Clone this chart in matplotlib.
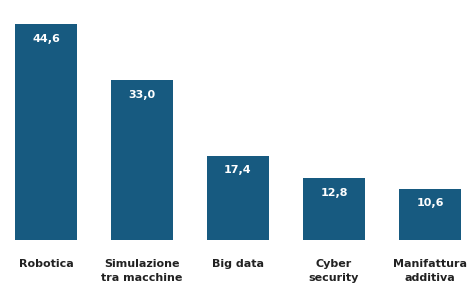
import matplotlib.pyplot as plt

categories = ["Robotica", "Simulazione\ntra macchine", "Big data", "Cyber\nsecurity", "Manifattura\nadditiva"]
values = [44.6, 33.0, 17.4, 12.8, 10.6]
value_labels = ["44,6", "33,0", "17,4", "12,8", "10,6"]

BAR_COLOR = "#175a80"

fig = plt.figure(figsize=(4.72, 2.83), dpi=100)
ax = fig.add_axes([0, 43 / 283, 1, 240 / 283])

x = list(range(len(categories)))
bars = ax.bar(x, values, width=0.65, color=BAR_COLOR)
for b, lab in zip(bars, value_labels):
    ax.text(b.get_x() + b.get_width() / 2, b.get_height() - 2.0, lab,
            ha="center", va="top", color="white", fontsize=8, fontweight="bold")

ax.set_xlim(-0.479, 4.4375)
ax.set_ylim(0, 49.56)
ax.set_xticks(x)
ax.set_xticklabels(categories, fontsize=8, fontweight="bold", color="#222222", linespacing=1.5)
ax.tick_params(axis="x", length=0, pad=14)
ax.set_yticks([])
for s in ax.spines.values():
    s.set_visible(False)

fig.savefig("out.png", dpi=100)
